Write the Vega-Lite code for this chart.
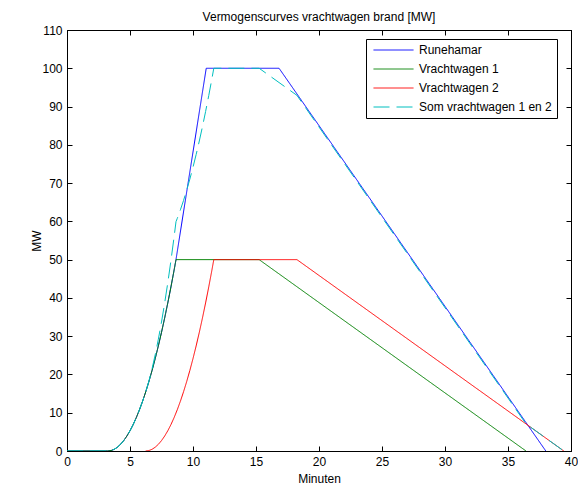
{
  "$schema": "https://vega.github.io/schema/vega-lite/v6.json",
  "width": 504,
  "height": 421,
  "autosize": "none",
  "padding": {"left": 67, "top": 30, "right": 7, "bottom": 34},
  "background": "white",
  "title": {"text": "Vermogenscurves vrachtwagen brand [MW]", "fontSize": 12, "font": "Liberation Sans", "fontWeight": "normal", "color": "black", "offset": 0, "frame": "group"},
  "config": {
    "view": {"stroke": "black", "strokeWidth": 1},
    "axis": {"domainColor": "black", "tickColor": "black", "labelColor": "black", "titleColor": "black", "labelFont": "Liberation Sans", "labelFontSize": 12, "titleFont": "Liberation Sans", "titleFontSize": 12, "titleFontWeight": "normal", "grid": false, "tickSize": -5, "labelPadding": 10, "labelFlush": false}
  },
  "data": {"values": [
    {"serie": "Runehamar", "t": 0, "mw": 0},
    {"serie": "Runehamar", "t": 3.24, "mw": 0},
    {"serie": "Runehamar", "t": 3.5, "mw": 0.115},
    {"serie": "Runehamar", "t": 3.75, "mw": 0.444},
    {"serie": "Runehamar", "t": 4.0, "mw": 0.987},
    {"serie": "Runehamar", "t": 4.25, "mw": 1.742},
    {"serie": "Runehamar", "t": 4.5, "mw": 2.712},
    {"serie": "Runehamar", "t": 4.75, "mw": 3.894},
    {"serie": "Runehamar", "t": 5.0, "mw": 5.291},
    {"serie": "Runehamar", "t": 5.25, "mw": 6.9},
    {"serie": "Runehamar", "t": 5.5, "mw": 8.724},
    {"serie": "Runehamar", "t": 5.75, "mw": 10.761},
    {"serie": "Runehamar", "t": 6.0, "mw": 13.011},
    {"serie": "Runehamar", "t": 6.25, "mw": 15.475},
    {"serie": "Runehamar", "t": 6.5, "mw": 18.152},
    {"serie": "Runehamar", "t": 6.75, "mw": 21.043},
    {"serie": "Runehamar", "t": 7.0, "mw": 24.147},
    {"serie": "Runehamar", "t": 7.25, "mw": 27.465},
    {"serie": "Runehamar", "t": 7.5, "mw": 30.996},
    {"serie": "Runehamar", "t": 7.75, "mw": 34.741},
    {"serie": "Runehamar", "t": 8.0, "mw": 38.699},
    {"serie": "Runehamar", "t": 8.25, "mw": 42.871},
    {"serie": "Runehamar", "t": 8.5, "mw": 47.256},
    {"serie": "Runehamar", "t": 8.65, "mw": 50},
    {"serie": "Runehamar", "t": 11.05, "mw": 100},
    {"serie": "Runehamar", "t": 16.83, "mw": 100},
    {"serie": "Runehamar", "t": 38.0, "mw": 0},

    {"serie": "Vrachtwagen 1", "t": 0, "mw": 0},
    {"serie": "Vrachtwagen 1", "t": 3.24, "mw": 0},
    {"serie": "Vrachtwagen 1", "t": 3.5, "mw": 0.115},
    {"serie": "Vrachtwagen 1", "t": 3.75, "mw": 0.444},
    {"serie": "Vrachtwagen 1", "t": 4.0, "mw": 0.987},
    {"serie": "Vrachtwagen 1", "t": 4.25, "mw": 1.742},
    {"serie": "Vrachtwagen 1", "t": 4.5, "mw": 2.712},
    {"serie": "Vrachtwagen 1", "t": 4.75, "mw": 3.894},
    {"serie": "Vrachtwagen 1", "t": 5.0, "mw": 5.291},
    {"serie": "Vrachtwagen 1", "t": 5.25, "mw": 6.9},
    {"serie": "Vrachtwagen 1", "t": 5.5, "mw": 8.724},
    {"serie": "Vrachtwagen 1", "t": 5.75, "mw": 10.761},
    {"serie": "Vrachtwagen 1", "t": 6.0, "mw": 13.011},
    {"serie": "Vrachtwagen 1", "t": 6.25, "mw": 15.475},
    {"serie": "Vrachtwagen 1", "t": 6.5, "mw": 18.152},
    {"serie": "Vrachtwagen 1", "t": 6.75, "mw": 21.043},
    {"serie": "Vrachtwagen 1", "t": 7.0, "mw": 24.147},
    {"serie": "Vrachtwagen 1", "t": 7.25, "mw": 27.465},
    {"serie": "Vrachtwagen 1", "t": 7.5, "mw": 30.996},
    {"serie": "Vrachtwagen 1", "t": 7.75, "mw": 34.741},
    {"serie": "Vrachtwagen 1", "t": 8.0, "mw": 38.699},
    {"serie": "Vrachtwagen 1", "t": 8.25, "mw": 42.871},
    {"serie": "Vrachtwagen 1", "t": 8.5, "mw": 47.256},
    {"serie": "Vrachtwagen 1", "t": 8.65, "mw": 50},
    {"serie": "Vrachtwagen 1", "t": 15.25, "mw": 50},
    {"serie": "Vrachtwagen 1", "t": 36.43, "mw": 0},

    {"serie": "Vrachtwagen 2", "t": 6.24, "mw": 0},
    {"serie": "Vrachtwagen 2", "t": 6.5, "mw": 0.115},
    {"serie": "Vrachtwagen 2", "t": 6.75, "mw": 0.444},
    {"serie": "Vrachtwagen 2", "t": 7.0, "mw": 0.987},
    {"serie": "Vrachtwagen 2", "t": 7.25, "mw": 1.742},
    {"serie": "Vrachtwagen 2", "t": 7.5, "mw": 2.712},
    {"serie": "Vrachtwagen 2", "t": 7.75, "mw": 3.894},
    {"serie": "Vrachtwagen 2", "t": 8.0, "mw": 5.291},
    {"serie": "Vrachtwagen 2", "t": 8.25, "mw": 6.9},
    {"serie": "Vrachtwagen 2", "t": 8.5, "mw": 8.724},
    {"serie": "Vrachtwagen 2", "t": 8.75, "mw": 10.761},
    {"serie": "Vrachtwagen 2", "t": 9.0, "mw": 13.011},
    {"serie": "Vrachtwagen 2", "t": 9.25, "mw": 15.475},
    {"serie": "Vrachtwagen 2", "t": 9.5, "mw": 18.152},
    {"serie": "Vrachtwagen 2", "t": 9.75, "mw": 21.043},
    {"serie": "Vrachtwagen 2", "t": 10.0, "mw": 24.147},
    {"serie": "Vrachtwagen 2", "t": 10.25, "mw": 27.465},
    {"serie": "Vrachtwagen 2", "t": 10.5, "mw": 30.996},
    {"serie": "Vrachtwagen 2", "t": 10.75, "mw": 34.741},
    {"serie": "Vrachtwagen 2", "t": 11.0, "mw": 38.699},
    {"serie": "Vrachtwagen 2", "t": 11.25, "mw": 42.871},
    {"serie": "Vrachtwagen 2", "t": 11.5, "mw": 47.256},
    {"serie": "Vrachtwagen 2", "t": 11.65, "mw": 50},
    {"serie": "Vrachtwagen 2", "t": 18.25, "mw": 50},
    {"serie": "Vrachtwagen 2", "t": 39.43, "mw": 0},

    {"serie": "Som vrachtwagen 1 en 2", "t": 0, "mw": 0},
    {"serie": "Som vrachtwagen 1 en 2", "t": 3.24, "mw": 0},
    {"serie": "Som vrachtwagen 1 en 2", "t": 3.5, "mw": 0.115},
    {"serie": "Som vrachtwagen 1 en 2", "t": 3.75, "mw": 0.444},
    {"serie": "Som vrachtwagen 1 en 2", "t": 4.0, "mw": 0.987},
    {"serie": "Som vrachtwagen 1 en 2", "t": 4.25, "mw": 1.742},
    {"serie": "Som vrachtwagen 1 en 2", "t": 4.5, "mw": 2.712},
    {"serie": "Som vrachtwagen 1 en 2", "t": 4.75, "mw": 3.894},
    {"serie": "Som vrachtwagen 1 en 2", "t": 5.0, "mw": 5.291},
    {"serie": "Som vrachtwagen 1 en 2", "t": 5.25, "mw": 6.9},
    {"serie": "Som vrachtwagen 1 en 2", "t": 5.5, "mw": 8.724},
    {"serie": "Som vrachtwagen 1 en 2", "t": 5.75, "mw": 10.761},
    {"serie": "Som vrachtwagen 1 en 2", "t": 6.0, "mw": 13.011},
    {"serie": "Som vrachtwagen 1 en 2", "t": 6.25, "mw": 15.475},
    {"serie": "Som vrachtwagen 1 en 2", "t": 6.5, "mw": 18.267},
    {"serie": "Som vrachtwagen 1 en 2", "t": 6.75, "mw": 21.487},
    {"serie": "Som vrachtwagen 1 en 2", "t": 7.0, "mw": 25.134},
    {"serie": "Som vrachtwagen 1 en 2", "t": 7.25, "mw": 29.207},
    {"serie": "Som vrachtwagen 1 en 2", "t": 7.5, "mw": 33.708},
    {"serie": "Som vrachtwagen 1 en 2", "t": 7.75, "mw": 38.635},
    {"serie": "Som vrachtwagen 1 en 2", "t": 8.0, "mw": 43.99},
    {"serie": "Som vrachtwagen 1 en 2", "t": 8.25, "mw": 49.771},
    {"serie": "Som vrachtwagen 1 en 2", "t": 8.5, "mw": 55.98},
    {"serie": "Som vrachtwagen 1 en 2", "t": 8.65, "mw": 59.92},
    {"serie": "Som vrachtwagen 1 en 2", "t": 8.75, "mw": 60.761},
    {"serie": "Som vrachtwagen 1 en 2", "t": 9.0, "mw": 63.011},
    {"serie": "Som vrachtwagen 1 en 2", "t": 9.25, "mw": 65.475},
    {"serie": "Som vrachtwagen 1 en 2", "t": 9.5, "mw": 68.152},
    {"serie": "Som vrachtwagen 1 en 2", "t": 9.75, "mw": 71.043},
    {"serie": "Som vrachtwagen 1 en 2", "t": 10.0, "mw": 74.147},
    {"serie": "Som vrachtwagen 1 en 2", "t": 10.25, "mw": 77.465},
    {"serie": "Som vrachtwagen 1 en 2", "t": 10.5, "mw": 80.996},
    {"serie": "Som vrachtwagen 1 en 2", "t": 10.75, "mw": 84.741},
    {"serie": "Som vrachtwagen 1 en 2", "t": 11.0, "mw": 88.699},
    {"serie": "Som vrachtwagen 1 en 2", "t": 11.25, "mw": 92.871},
    {"serie": "Som vrachtwagen 1 en 2", "t": 11.5, "mw": 97.256},
    {"serie": "Som vrachtwagen 1 en 2", "t": 11.65, "mw": 100},
    {"serie": "Som vrachtwagen 1 en 2", "t": 15.25, "mw": 100},
    {"serie": "Som vrachtwagen 1 en 2", "t": 18.25, "mw": 92.918},
    {"serie": "Som vrachtwagen 1 en 2", "t": 36.43, "mw": 7.082},
    {"serie": "Som vrachtwagen 1 en 2", "t": 39.43, "mw": 0}
  ]},
  "layer": [
    {
      "mark": {"type": "line", "strokeWidth": 1, "clip": true},
      "encoding": {
        "x": {"field": "t", "type": "quantitative", "scale": {"domain": [0, 40], "nice": false}, "axis": {"values": [0, 5, 10, 15, 20, 25, 30, 35, 40], "title": "Minuten", "titleY": 31, "titleBaseline": "alphabetic"}},
        "y": {"field": "mw", "type": "quantitative", "scale": {"domain": [0, 110], "nice": false}, "axis": {"values": [0, 10, 20, 30, 40, 50, 60, 70, 80, 90, 100, 110], "title": "MW", "titleX": -27, "titleBaseline": "alphabetic"}},
        "color": {"field": "serie", "type": "nominal", "sort": null, "scale": {"domain": ["Runehamar", "Vrachtwagen 1", "Vrachtwagen 2", "Som vrachtwagen 1 en 2"], "range": ["#0000FF", "#008000", "#FF0000", "#00BFBF"]},
          "legend": {"title": null, "orient": "none", "legendX": 299, "legendY": 9, "fillColor": "white", "strokeColor": "black", "padding": 5, "symbolType": "stroke", "symbolSize": 1600, "symbolStrokeWidth": 1, "labelFontSize": 12, "labelFont": "Liberation Sans", "labelColor": "black", "labelOffset": 5, "rowPadding": 7, "clipHeight": 12, "symbolOffset": 2}},
        "strokeDash": {"field": "serie", "type": "nominal", "sort": null, "scale": {"domain": ["Runehamar", "Vrachtwagen 1", "Vrachtwagen 2", "Som vrachtwagen 1 en 2"], "range": [[1, 0], [1, 0], [1, 0], [16, 7]]},
          "legend": {"title": null, "orient": "none", "legendX": 299, "legendY": 9, "fillColor": "white", "strokeColor": "black", "padding": 5, "symbolType": "stroke", "symbolSize": 1600, "symbolStrokeWidth": 1, "labelFontSize": 12, "labelFont": "Liberation Sans", "labelColor": "black", "labelOffset": 5, "rowPadding": 7, "clipHeight": 12, "symbolOffset": 2}}
      }
    },
    {
      "mark": {"type": "line", "opacity": 0},
      "encoding": {
        "x": {"field": "t", "type": "quantitative", "axis": {"orient": "top", "values": [0, 5, 10, 15, 20, 25, 30, 35, 40], "labels": false, "title": null}},
        "y": {"field": "mw", "type": "quantitative", "axis": {"orient": "right", "values": [0, 10, 20, 30, 40, 50, 60, 70, 80, 90, 100, 110], "labels": false, "title": null}},
        "detail": {"field": "serie", "type": "nominal"}
      }
    }
  ],
  "resolve": {"axis": {"x": "independent", "y": "independent"}}
}
